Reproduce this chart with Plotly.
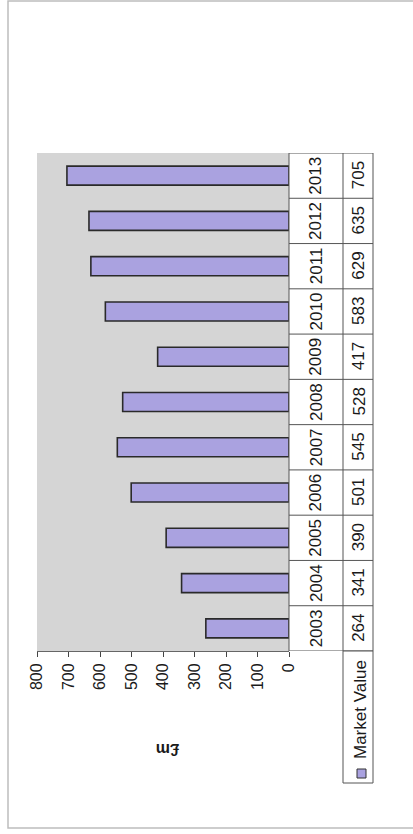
import plotly.graph_objects as go

years = ["2003", "2004", "2005", "2006", "2007", "2008", "2009", "2010", "2011", "2012", "2013"]
market_value = [264, 341, 390, 501, 545, 528, 417, 583, 629, 635, 705]
value_ticks = [0, 100, 200, 300, 400, 500, 600, 700, 800]
series_name = "Market Value"
axis_title = "£m"

W, H = 413, 834
L, R, T, B = 37, 289, 153, 651  # plot area in pixels


def px(x):
    return (x - L) / (R - L)


def py(y):
    return (B - y) / (B - T)


FONT = "Liberation Sans, Arial, sans-serif"
BAR = "#aaa2e0"
LINE = "#555555"

fig = go.Figure()
fig.add_trace(go.Bar(
    y=years, x=market_value, orientation="h", name=series_name,
    width=0.42,
    marker=dict(color=BAR, line=dict(color="#2a2a2a", width=1.6)),
    showlegend=False,
))

shapes = []
annotations = []

# outer frame
shapes.append(dict(type="rect", xref="paper", yref="paper",
                   x0=px(8), x1=px(440), y0=py(1), y1=py(828),
                   line=dict(color="#bdbdbd", width=1.5), layer="below"))

n = len(years)
# data table: vertical lines
for xv in (R, 343, 373):
    shapes.append(dict(type="line", xref="paper", yref="y",
                       x0=px(xv), x1=px(xv), y0=-0.5, y1=n - 0.5,
                       line=dict(color=LINE, width=1)))
# horizontal row lines
for i in range(n + 1):
    shapes.append(dict(type="line", xref="paper", yref="y",
                       x0=px(R), x1=px(373), y0=i - 0.5, y1=i - 0.5,
                       line=dict(color=LINE, width=1)))
# legend cell
shapes.append(dict(type="rect", xref="paper", yref="paper",
                   x0=px(343), x1=px(373), y0=py(783), y1=py(651),
                   line=dict(color=LINE, width=1)))
# legend key
shapes.append(dict(type="rect", xref="paper", yref="paper",
                   x0=px(357), x1=px(366), y0=py(778), y1=py(769),
                   fillcolor=BAR, line=dict(color="#333333", width=1)))

for i, (yr, v) in enumerate(zip(years, market_value)):
    annotations.append(dict(xref="paper", yref="y", x=px(316), y=i,
                            xanchor="center", yanchor="middle",
                            text=yr, showarrow=False, textangle=-90,
                            font=dict(family=FONT, size=17, color="#1a1a1a")))
    annotations.append(dict(xref="paper", yref="y", x=px(358.5), y=i,
                            xanchor="center", yanchor="middle",
                            text=str(v), showarrow=False, textangle=-90,
                            font=dict(family=FONT, size=17, color="#1a1a1a")))

annotations.append(dict(xref="paper", yref="paper", x=px(360), y=py(710),
                        xanchor="center", yanchor="middle",
                        text=series_name, showarrow=False, textangle=-90,
                        font=dict(family=FONT, size=17, color="#1a1a1a")))
annotations.append(dict(xref="paper", yref="paper", x=px(168), y=py(750),
                        xanchor="center", yanchor="middle",
                        text="<b>" + axis_title + "</b>", showarrow=False, textangle=180,
                        font=dict(family=FONT, size=16, color="#1a1a1a")))

fig.update_layout(
    width=W, height=H,
    margin=dict(l=L, r=W - R, t=T, b=H - B, pad=0),
    paper_bgcolor="white",
    plot_bgcolor="#d5d5d5",
    xaxis=dict(range=[800, 0], tickvals=value_ticks, ticktext=[str(t) for t in value_ticks],
               tickangle=-90, ticks="outside", ticklen=5, tickcolor="#444",
               showline=True, linecolor="#666", linewidth=1, showgrid=False, zeroline=False,
               tickfont=dict(family=FONT, size=16, color="#1a1a1a"), fixedrange=True),
    yaxis=dict(type="category", categoryorder="array", categoryarray=years,
               showticklabels=False, showgrid=False, showline=False,
               range=[-0.5, n - 0.5], fixedrange=True),
    shapes=shapes,
    annotations=annotations,
)

fig.write_html("out.html")
